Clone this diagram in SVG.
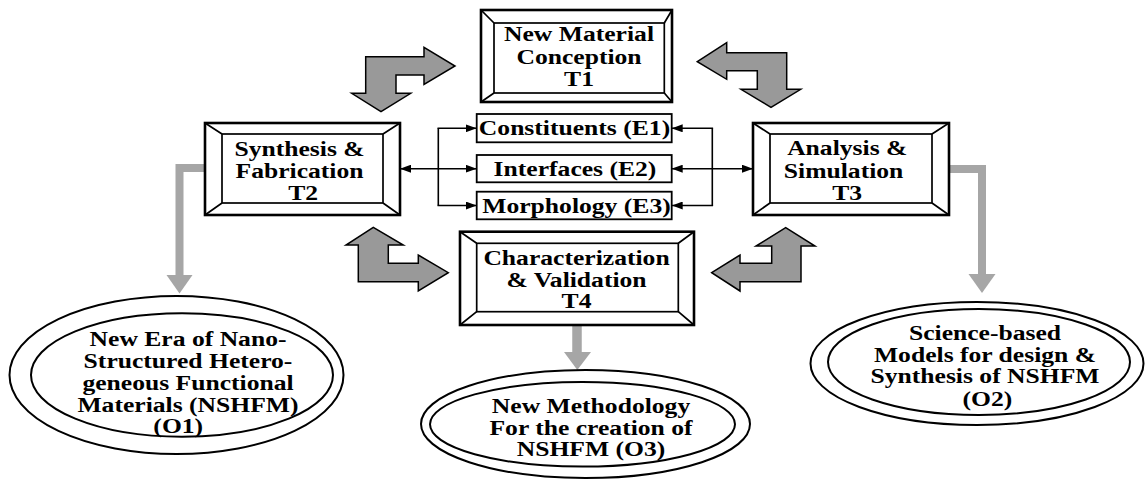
<svg xmlns="http://www.w3.org/2000/svg" width="1145" height="479" viewBox="0 0 1145 479">
<style>
.out{fill:#fff;stroke:#000;stroke-width:2.6}
.bev{fill:none;stroke:#000;stroke-width:1.7}
.eb{fill:#fff;stroke:#000;stroke-width:1.8}
.el{fill:#fff;stroke:#000;stroke-width:2}
.t{font-family:"Liberation Serif","Times New Roman",serif;font-weight:bold;font-size:21px;text-anchor:middle;fill:#000}
.blk{fill:#999;stroke:#000;stroke-width:1.5;stroke-linejoin:miter}
.gl{fill:none;stroke:#a6a6a6;stroke-width:8}
.gh{fill:#a6a6a6;stroke:none}
.ln{fill:none;stroke:#000;stroke-width:1.6}
</style>
<defs>
<marker id="ah" markerUnits="userSpaceOnUse" markerWidth="11" markerHeight="8" refX="11" refY="4" orient="auto-start-reverse">
<path d="M0,0 L11,4 L0,8 z" fill="#000"/>
</marker>
</defs>

<g id="arrows-cycle">
<polygon class="blk" points="365.7,56.7 424,56.7 424,47.3 455,66 424,84.5 424,75 396,75 396,93.3 410.7,93.3 381,111.7 351.7,93.3 365.7,93.3"/>
<polygon class="blk" points="697.3,61.7 726.7,42.7 726.7,52.7 786.7,52.7 786.7,89.3 800.7,89.3 771,107.3 741,89.3 757.3,89.3 757.3,70.7 726.7,70.7 726.7,79.3"/>
<polygon class="blk" points="373.3,227.3 403.3,245 388.3,245 388.3,263.3 418.3,263.3 418.3,255 448.3,272.7 418.3,291 418.3,281.7 358.3,281.7 358.3,245 346,245"/>
<polygon class="blk" points="711.7,272.7 740,255 740,263.3 771.7,263.3 771.7,246 756,246 785.7,227.7 815,246 801,246 801,281.7 740,281.7 740,291"/>
</g>

<g id="connectors">
<line class="ln" x1="400" y1="168.7" x2="476.7" y2="168.7" marker-start="url(#ah)" marker-end="url(#ah)"/>
<line class="ln" x1="438.3" y1="128.3" x2="438.3" y2="205.5"/>
<line class="ln" x1="437.5" y1="128.3" x2="476.7" y2="128.3" marker-end="url(#ah)"/>
<line class="ln" x1="437.5" y1="205.5" x2="476.7" y2="205.5" marker-end="url(#ah)"/>
<line class="ln" x1="671.7" y1="168.7" x2="753" y2="168.7" marker-start="url(#ah)" marker-end="url(#ah)"/>
<line class="ln" x1="712.3" y1="128.3" x2="712.3" y2="205.5"/>
<line class="ln" x1="713.1" y1="128.3" x2="671.7" y2="128.3" marker-end="url(#ah)"/>
<line class="ln" x1="713.1" y1="205.5" x2="671.7" y2="205.5" marker-end="url(#ah)"/>
<path class="gl" d="M205,168 H179.5 V276"/>
<polygon class="gh" points="166.5,275 192.5,275 179.5,293.5"/>
<path class="gl" d="M949,169 H982 V275"/>
<polygon class="gh" points="968.5,274 995.5,274 982,293"/>
<path class="gl" d="M577,325 V353" style="stroke-width:9.5"/>
<polygon class="gh" points="564,352 591,352 577.3,370"/>
</g>

<g id="T1">
<rect class="out" x="481" y="10" width="191" height="92"/>
<rect class="bev" x="494" y="23" width="170.3" height="70"/>
<path class="bev" d="M481,10 L494,23 M672,10 L664.3,23 M481,102 L494,93 M672,102 L664.3,93"/>
<text class="t" transform="translate(579 0) scale(1.22 1)"><tspan x="0" y="41">New Material</tspan><tspan x="0" y="64">Conception</tspan><tspan x="0" y="86.5">T1</tspan></text>
</g>

<g id="T2">
<rect class="out" x="205" y="123" width="195" height="92"/>
<rect class="bev" x="222" y="134" width="161" height="69"/>
<path class="bev" d="M205,123 L222,134 M400,123 L383,134 M205,215 L222,203 M400,215 L383,203"/>
<text class="t" transform="translate(299.5 0) scale(1.22 1)"><tspan x="0" y="156.5">Synthesis &amp;</tspan><tspan x="0" y="178.5">Fabrication</tspan><tspan x="3" y="200.5">T2</tspan></text>
</g>

<g id="T3">
<rect class="out" x="753" y="123" width="196" height="92"/>
<rect class="bev" x="770" y="134" width="162" height="69"/>
<path class="bev" d="M753,123 L770,134 M949,123 L932,134 M753,215 L770,203 M949,215 L932,203"/>
<text class="t" transform="translate(846 0) scale(1.22 1)"><tspan x="1" y="155.5">Analysis &amp;</tspan><tspan x="-2" y="178">Simulation</tspan><tspan x="1" y="200.5">T3</tspan></text>
</g>

<g id="T4">
<rect class="out" x="460" y="231.7" width="234" height="93.3"/>
<rect class="bev" x="476.7" y="243.3" width="201.6" height="68.4"/>
<path class="bev" d="M460,231.7 L476.7,243.3 M694,231.7 L678.3,243.3 M460,325 L476.7,311.7 M694,325 L678.3,311.7"/>
<text class="t" transform="translate(576.5 0) scale(1.22 1)"><tspan x="0" y="265.5">Characterization</tspan><tspan x="0" y="287">&amp; Validation</tspan><tspan x="0" y="308.5">T4</tspan></text>
</g>

<g id="E1">
<rect class="eb" x="476.7" y="114" width="195" height="28.3"/>
<text class="t" transform="translate(574.5 0) scale(1.22 1)"><tspan x="0" y="135.5">Constituents (E1)</tspan></text>
</g>
<g id="E2">
<rect class="eb" x="476.7" y="155" width="195" height="27.3"/>
<text class="t" transform="translate(575 0) scale(1.22 1)"><tspan x="0" y="176.5">Interfaces (E2)</tspan></text>
</g>
<g id="E3">
<rect class="eb" x="476.7" y="191.7" width="195" height="27.6"/>
<text class="t" transform="translate(576.5 0) scale(1.22 1)"><tspan x="0" y="213">Morphology (E3)</tspan></text>
</g>

<g id="O1">
<ellipse class="el" cx="176.5" cy="375" rx="167" ry="79"/>
<ellipse class="el" cx="182" cy="375" rx="151" ry="61.7"/>
<text class="t" transform="translate(188 0) scale(1.22 1)"><tspan x="0" y="346.5">New Era of Nano-</tspan><tspan x="0" y="368.5">Structured Hetero-</tspan><tspan x="0" y="390.5">geneous Functional</tspan><tspan x="0" y="412">Materials (NSHFM)</tspan><tspan x="-8" y="433.5">(O1)</tspan></text>
</g>

<g id="O2">
<ellipse class="el" cx="977" cy="363.5" rx="166.5" ry="61.5"/>
<ellipse class="el" cx="979" cy="362" rx="151" ry="53"/>
<text class="t" transform="translate(985 0) scale(1.22 1)"><tspan x="0" y="340.5">Science-based</tspan><tspan x="0" y="362">Models for design &amp;</tspan><tspan x="0" y="383.5">Synthesis of NSHFM</tspan><tspan x="2" y="406">(O2)</tspan></text>
</g>

<g id="O3">
<ellipse class="el" cx="585.5" cy="424" rx="164.5" ry="54"/>
<ellipse class="el" cx="582.5" cy="424.3" rx="152.5" ry="42.3"/>
<text class="t" transform="translate(591 0) scale(1.22 1)"><tspan x="0" y="413.5">New Methodology</tspan><tspan x="0" y="435">For the creation of</tspan><tspan x="0" y="456.5">NSHFM (O3)</tspan></text>
</g>
</svg>
